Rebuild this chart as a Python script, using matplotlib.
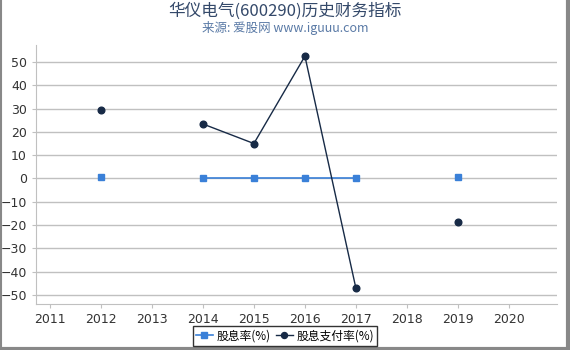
import matplotlib.pyplot as plt
import numpy as np

plt.rcParams['font.family'] = ['Noto Sans CJK SC', 'DejaVu Sans']

years = [2012, 2013, 2014, 2015, 2016, 2017, 2018, 2019]
dividend_yield = [0.5, np.nan, 0.3, 0.3, 0.3, 0.3, np.nan, 0.5]
payout_ratio = [29.2, np.nan, 23.4, 15.0, 52.5, -47.2, np.nan, -18.5]
x_ticks = list(range(2011, 2021))
y_ticks = list(range(-50, 51, 10))

fig = plt.figure(figsize=(5.7, 3.5), dpi=100)
ax = fig.add_axes([36 / 570, 1 - 304 / 350, 521 / 570, 259 / 350])

ax.plot(years, dividend_yield, color='#3a80d8', marker='s', markersize=4.5,
        linewidth=1.2, label='股息率(%)', zorder=3)
ax.plot(years, payout_ratio, color='#172a46', marker='o', markersize=4.8,
        linewidth=1.0, label='股息支付率(%)', zorder=4)

ax.set_xlim(2010.73, 2020.94)
ax.set_ylim(-53.9, 57.3)
ax.set_xticks(x_ticks)
ax.set_yticks(y_ticks)
ax.grid(axis='y', color='#c0c0c0', linewidth=1)
ax.set_axisbelow(True)
for s in ['top', 'right']:
    ax.spines[s].set_visible(False)
ax.spines['left'].set_color('#c0c0c0')
ax.spines['bottom'].set_color('#c0c0c0')
ax.tick_params(axis='both', colors='#c0c0c0', labelcolor='#333333',
               labelsize=9, length=3)
for lab in ax.get_xticklabels() + ax.get_yticklabels():
    lab.set_family('DejaVu Sans')

fig.text(0.5, 1 - 11 / 350, '华仪电气(600290)历史财务指标', ha='center',
         va='center', fontsize=12, color='#34496a')
fig.text(0.5, 1 - 28 / 350, '来源: 爱股网 www.iguuu.com', ha='center',
         va='center', fontsize=9, color='#5a7aa6')

leg = fig.legend(loc='center', bbox_to_anchor=(285 / 570, 1 - 336 / 350),
                 ncol=2, fontsize=8.5, frameon=True, fancybox=False,
                 handlelength=1.4, handletextpad=0.3, columnspacing=0.5,
                 borderpad=0.3, markerscale=0.9)
leg.get_frame().set_edgecolor('black')
leg.get_frame().set_linewidth(1)

# outer frame: left, right, bottom
frame = '#888888'
fig.add_artist(plt.Line2D([0.5 / 570, 0.5 / 570], [0, 1], color=frame,
                          linewidth=1.5, transform=fig.transFigure))
fig.add_artist(plt.Line2D([567.5 / 570, 567.5 / 570], [0, 1], color=frame,
                          linewidth=3, transform=fig.transFigure))
fig.add_artist(plt.Line2D([0, 1], [1.5 / 350, 1.5 / 350], color=frame,
                          linewidth=3, transform=fig.transFigure))

fig.savefig('out.png', dpi=100)
